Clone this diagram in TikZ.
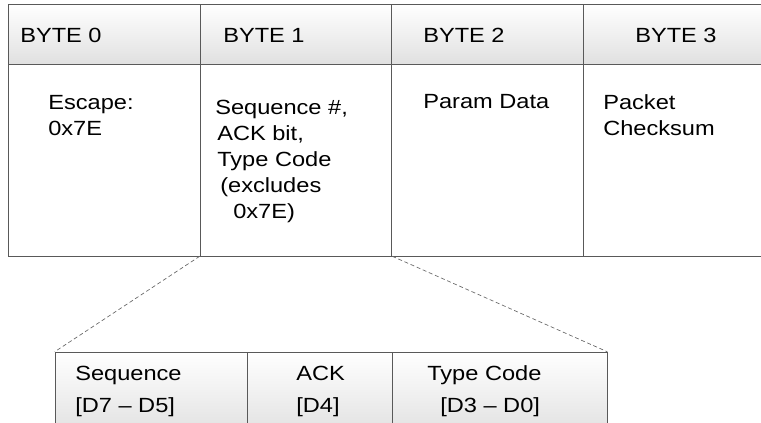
\documentclass[tikz,border=0pt]{standalone}
\usepackage{fontspec}
\setmainfont{Liberation Sans}[FakeStretch=1.15]
\tikzset{
    HD/.style ={rectangle,minimum width = 144pt, minimum height = 45pt, draw=black!65, top color=white, bottom color=black!12},
    BD/.style ={rectangle,minimum width = 144pt, minimum height = 144pt, draw=black!65, fill=white},
    FD/.style ={rectangle,minimum height = 73.5pt, draw=black!65, top color=white, bottom color=black!14},
    TX/.style ={anchor=north west, inner sep=0pt, align=left, font=\fontsize{15.4}{19.5}\selectfont},
    TB/.style ={TX, font=\fontsize{15.4}{24}\selectfont},
    ZM/.style ={draw=black!60, dash pattern=on 3pt off 2pt, line width=0.5pt}}
\begin{document}
\begin{tikzpicture}[x=0.75pt,y=-0.75pt]
        \clip (0,0) rectangle (761,423);
        \node[HD] (h0) at(104,34){};
        \node[HD] (h1) at(296,34){};
        \node[HD] (h2) at(487.5,34){};
        \node[HD] (h3) at(679,34){};
        \node[BD] (b0) at(104,160){};
        \node[BD] (b1) at(296,160){};
        \node[BD] (b2) at(487.5,160){};
        \node[BD] (b3) at(679,160){};
        \node[FD,minimum width = 144pt] (f0) at(151,401){};
        \node[FD,minimum width = 108.75pt] (f1) at(319.5,401){};
        \node[FD,minimum width = 161.25pt] (f2) at(499.5,401){};
        \node[TX] (th0) at(20,28){BYTE 0};
        \node[TX] (th1) at(223,28){BYTE 1};
        \node[TX] (th2) at(423,28){BYTE 2};
        \node[TX] (th3) at(635,28){BYTE 3};
        \node[TX] (tb0) at(48,95){Escape:\\0x7E};
        \node[TX] (tb1) at(215,100){Sequence \#,\\\hspace*{1.5pt}ACK bit,\\\hspace*{1.5pt}Type Code\\\hspace*{3.75pt}(excludes\\\hspace*{13.5pt}0x7E)};
        \node[TX] (tb2) at(423,94){Param Data};
        \node[TX] (tb3) at(603,94){Packet\\Checksum};
        \node[TB] (tf0) at(75,366){Sequence\\{[D7 \textendash{} D5]}};
        \node[TB] (tf1) at(296,366){ACK\\{[D4]}};
        \node[TB] (tf2) at(427,365){Type Code\\\hspace*{9.75pt}{[D3 \textendash{} D0]}};
        \draw[ZM] (b1.south west) --(f0.north west);
        \draw[ZM] (b1.south east) --(f2.north east);
    \end{tikzpicture}
\end{document}
